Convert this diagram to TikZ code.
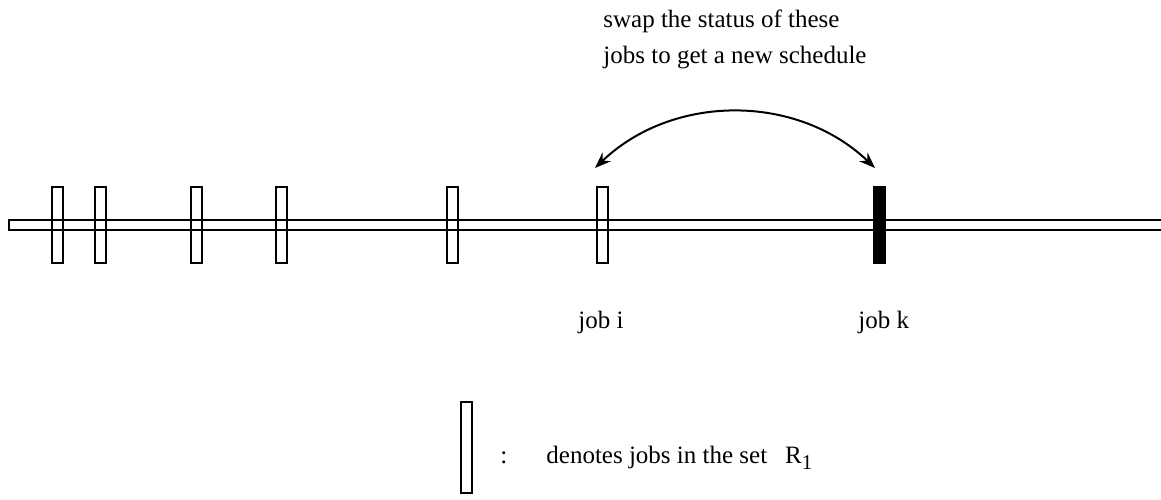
\documentclass[tikz,border=0pt]{standalone}
\usepackage{fontspec}
\setmainfont{Liberation Serif}
\usetikzlibrary{arrows.meta}
\begin{document}
\begin{tikzpicture}[x=0.5pt,y=-0.5pt,
  jobbox/.style={draw=black,line width=1pt,minimum width=5.5pt,minimum height=38pt,inner sep=0pt,outer sep=0pt},
  jobfill/.style={jobbox,fill=black},
  lbl/.style={font=\fontsize{12.5pt}{15pt}\selectfont,inner sep=0pt,anchor=base west},
  bar/.style={draw=black,line width=1pt},
  swap/.style={draw=black,line width=1pt,{Stealth[length=8pt,width=6pt]}-{Stealth[length=8pt,width=6pt]}}]
\useasboundingbox (0,0) rectangle (1161,499);
% time line
\draw[bar] (1162,220) -- (9,220) -- (9,230) -- (1162,230);
% jobs
\node[jobbox] (j1) at (57.5,225) {};
\node[jobbox] (j2) at (100,225) {};
\node[jobbox] (j3) at (196.5,225) {};
\node[jobbox] (j4) at (281,225) {};
\node[jobbox] (j5) at (452.5,225) {};
\node[jobbox] (ji) at (602,225) {};
\node[jobfill] (jk) at (879,225) {};
% swap arrow
\coordinate (ti) at (595,168);
\coordinate (tk) at (875,168);
\draw[swap] (ti) .. controls (673,93.5) and (797,93.5) .. (tk);
% texts
\node[lbl] (s1) at (603,27) {swap the status of these};
\node[lbl] (s2) at (603,63) {jobs to get a new schedule};
\node[lbl] (li) at (578,328) {job i};
\node[lbl] (lk) at (858,328) {job k};
% legend
\node[jobbox,minimum height=45.5pt] (leg) at (466,447.5) {};
\node[lbl] (colon) at (500,463) {:};
\node[lbl] (lt) at (546,463) {denotes jobs in the set\hspace{18\dimexpr0.5pt\relax}R\raisebox{-6.5\dimexpr0.5pt\relax}{\fontsize{10.5pt}{12pt}\selectfont 1}};
\end{tikzpicture}
\end{document}
